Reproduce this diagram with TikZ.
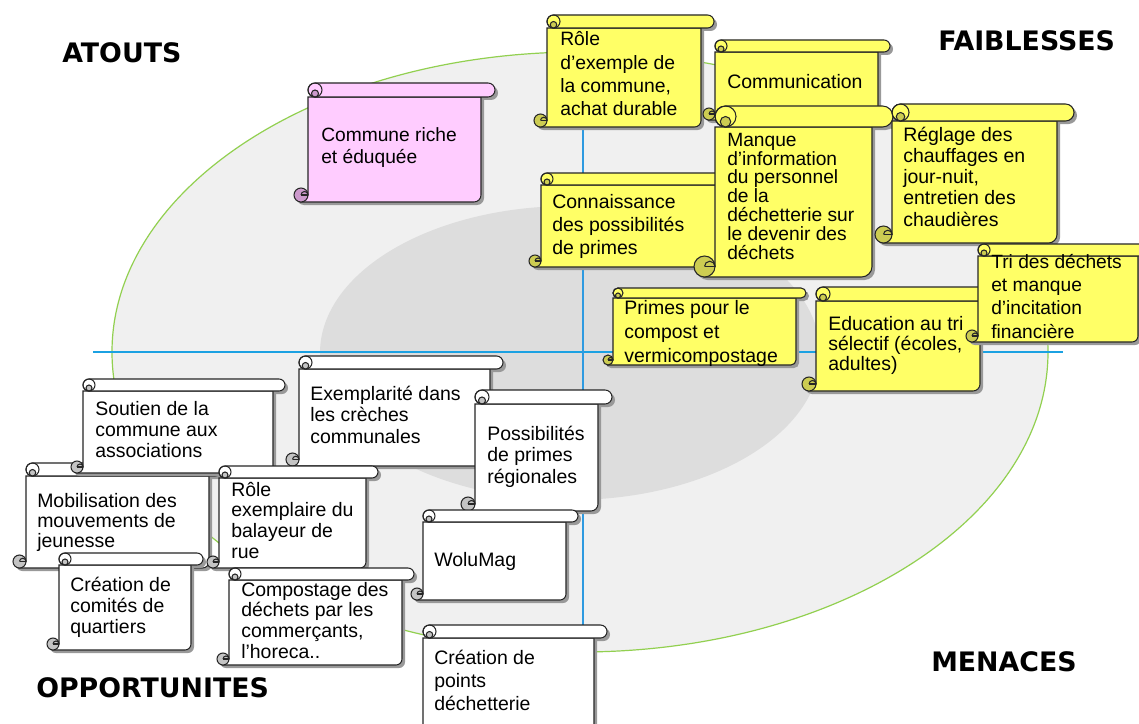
\documentclass[tikz,border=0pt]{standalone}
\usepackage{fontspec}
\setmainfont{Liberation Sans}
\newfontfamily\titlefont{DejaVu Sans}
\definecolor{yfill}{HTML}{FFFF66}
\definecolor{ycurl}{HTML}{CCCC52}
\definecolor{pfill}{HTML}{FFCCFF}
\definecolor{pcurl}{HTML}{CC99CC}
\definecolor{wcurl}{HTML}{C4C4C4}
\definecolor{outerfill}{HTML}{F0F0F0}
\definecolor{innerfill}{HTML}{DDDDDD}
\definecolor{ringgreen}{HTML}{92D050}
\definecolor{axisblue}{HTML}{1BA1E2}
\definecolor{vaxis}{HTML}{2E9AE0}
\tikzset{
  outline/.style={draw=black!85, line width=0.8pt},
  shade/.style={fill=black!40},
  lbl/.style={anchor=base west, align=left, inner sep=0pt, text=black},
  ttl/.style={anchor=base west, inner sep=0pt, font=\titlefont\bfseries\fontsize{20.1}{23}\selectfont},
}
% #1 L, #2 T, #3 R, #4 B, #5 h, #6 fill, #7 curl fill
\newcommand\scrl[7]{%
 \pgfmathsetmacro\hh{#5/2}%
 \pgfmathsetmacro\xb{#3-#5}%
 \pgfmathsetmacro\yr{#2+#5}%
 \pgfmathsetmacro\yc{#4-\hh}%
 \pgfmathsetmacro\rr{\hh*0.75}%
 \begin{scope}[shift={(3,3)}]
  \fill[shade] (#1,\yr) -- (#1,\yc) -- ({#1-\hh},#4) -- ({\xb-\hh},#4) .. controls ({\xb-0.45*\hh},#4) and (\xb,{#4-0.45*\hh}) .. (\xb,\yc) -- (\xb,\yr) -- cycle;
  \fill[shade, rounded corners=\rr pt] (#1,#2) rectangle (#3,\yr);
  \fill[shade] ({#1-\hh},\yc) circle[radius=\hh];
 \end{scope}
 \filldraw[outline, fill=#6] (#1,\yr) -- (#1,\yc) -- ({#1-\hh},#4) -- ({\xb-\hh},#4) .. controls ({\xb-0.45*\hh},#4) and (\xb,{#4-0.45*\hh}) .. (\xb,\yc) -- (\xb,\yr) -- cycle;
 \filldraw[outline, fill=#7] ({#1-\hh},\yc) circle[radius=\hh];
 \draw[outline] ({#1-\hh},\yc) -- (#1,\yc);
 \draw[outline] ({#1-\hh},\yc) arc[start angle=180, end angle=360, radius={\hh/2}];
 \filldraw[outline, fill=#6, rounded corners=\rr pt] (#1,#2) rectangle (#3,\yr);
 \draw[outline] ({#1+\hh},{#2+\hh}) circle[radius=\hh];
 \filldraw[outline, fill=#7] ({#1+\hh},{#2+1.5*\hh}) circle[radius={\hh/2}];
}
\begin{document}
\begin{tikzpicture}[x=0.75pt, y=-0.75pt]
\useasboundingbox (0,0) rectangle (1139,724);
\fill[white] (0,0) rectangle (1139,724);
\begin{scope}
\clip (0,0) rectangle (1139,724);
% rings
\filldraw[fill=outerfill, draw=ringgreen, line width=0.9pt] (580,352) ellipse[x radius=468, y radius=300];
\fill[innerfill] (570,353) ellipse[x radius=250, y radius=147];
% axes
\coordinate (hl) at (93,352);
\coordinate (hr) at (1063,352);
\coordinate (vt) at (583,30);
\coordinate (vb) at (583,700);
\draw[axisblue, line width=1.6pt] (hl) -- (hr);
\draw[vaxis, line width=0.8pt] (vt) -- (vb);

% scrolls (back to front); text anchored at the baseline of its last line
\scrl{308}{83}{495}{202}{14}{pfill}{pcurl}
\node[lbl, font=\fontsize{14.4}{16.5}\selectfont] (commune) at (321,163) {Commune riche\\et éduquée};

\scrl{547}{15}{714}{127}{13}{yfill}{ycurl}
\node[lbl, font=\fontsize{14.5}{17.5}\selectfont] (roleex) at (560,116) {Rôle\\d’exemple de\\la commune,\\achat durable};

\scrl{715}{40}{890}{120}{12}{yfill}{ycurl}
\node[lbl, font=\fontsize{14.6}{17.5}\selectfont] (comm) at (727,89) {Communication};

\scrl{541}{173}{730}{267}{12}{yfill}{ycurl}
\node[lbl, font=\fontsize{14.6}{17.25}\selectfont] (conn) at (552,254) {Connaissance\\des possibilités\\de primes};

\scrl{715}{106}{893}{277}{21}{yfill}{ycurl}
\node[lbl, font=\fontsize{14.4}{14.1}\selectfont] (manque) at (727,259) {Manque\\d’information\\du personnel\\de la\\déchetterie sur\\le devenir des\\déchets};

\scrl{892}{104}{1074}{243}{17}{yfill}{ycurl}
\node[lbl, font=\fontsize{14.6}{15.8}\selectfont] (reglage) at (903,226) {Réglage des\\chauffages en\\jour-nuit,\\entretien des\\chaudières};

\scrl{613}{288}{806}{365}{10}{yfill}{ycurl}
\node[lbl, font=\fontsize{14.6}{18}\selectfont] (primes) at (624,362) {Primes pour le\\compost et\\vermicompostage};

\scrl{816}{287}{994}{391}{14}{yfill}{ycurl}
\node[lbl, font=\fontsize{14.6}{15}\selectfont] (educ) at (828,370) {Education au tri\\sélectif (écoles,\\adultes)};

\scrl{978}{244}{1150}{342}{12}{yfill}{ycurl}
\node[lbl, font=\fontsize{14.4}{17.5}\selectfont] (tri) at (991,338) {Tri des déchets\\et manque\\d’incitation\\financière};

\scrl{26}{463}{222}{568}{13}{white}{wcurl}
\node[lbl, font=\fontsize{14.6}{15}\selectfont] (mobil) at (37,547) {Mobilisation des\\mouvements de\\jeunesse};

\scrl{83}{379}{285}{473}{12}{white}{wcurl}
\node[lbl, font=\fontsize{14.6}{15.75}\selectfont] (soutien) at (95,457) {Soutien de la\\commune aux\\associations};

\scrl{59}{553}{203}{650}{12}{white}{wcurl}
\node[lbl, font=\fontsize{14.6}{15.4}\selectfont] (comites) at (70,633) {Création de\\comités de\\quartiers};

\scrl{299}{356}{503}{466}{13}{white}{wcurl}
\node[lbl, font=\fontsize{14.6}{16.1}\selectfont] (creches) at (310,443) {Exemplarité dans\\les crèches\\communales};

\scrl{475}{390}{612}{511}{14}{white}{wcurl}
\node[lbl, font=\fontsize{14.6}{16.1}\selectfont] (regio) at (487,483) {Possibilités\\de primes\\régionales};

\scrl{219}{466}{378}{568}{12}{white}{wcurl}
\node[lbl, font=\fontsize{14.6}{15.5}\selectfont] (balayeur) at (231,558) {Rôle\\exemplaire du\\balayeur de\\rue};

\scrl{229}{568}{414}{665}{12}{white}{wcurl}
\node[lbl, font=\fontsize{14.6}{15.5}\selectfont] (compost) at (241,658) {Compostage des\\déchets par les\\commerçants,\\l’horeca..};

\scrl{423}{510}{578}{600}{12}{white}{wcurl}
\node[lbl, font=\fontsize{14.6}{17.5}\selectfont] (wolu) at (434,566) {WoluMag};

\scrl{423}{625}{607}{745}{13}{white}{wcurl}
\node[lbl, font=\fontsize{14.6}{17.25}\selectfont] (points) at (434,710) {Création de\\points\\déchetterie};

% titles
\node[ttl] (atouts) at (62,63) {ATOUTS};
\node[ttl] (faib) at (938,51) {FAIBLESSES};
\node[ttl] (menaces) at (931,671) {MENACES};
\node[ttl] (opport) at (36,697) {OPPORTUNITES};
\end{scope}
\end{tikzpicture}
\end{document}
